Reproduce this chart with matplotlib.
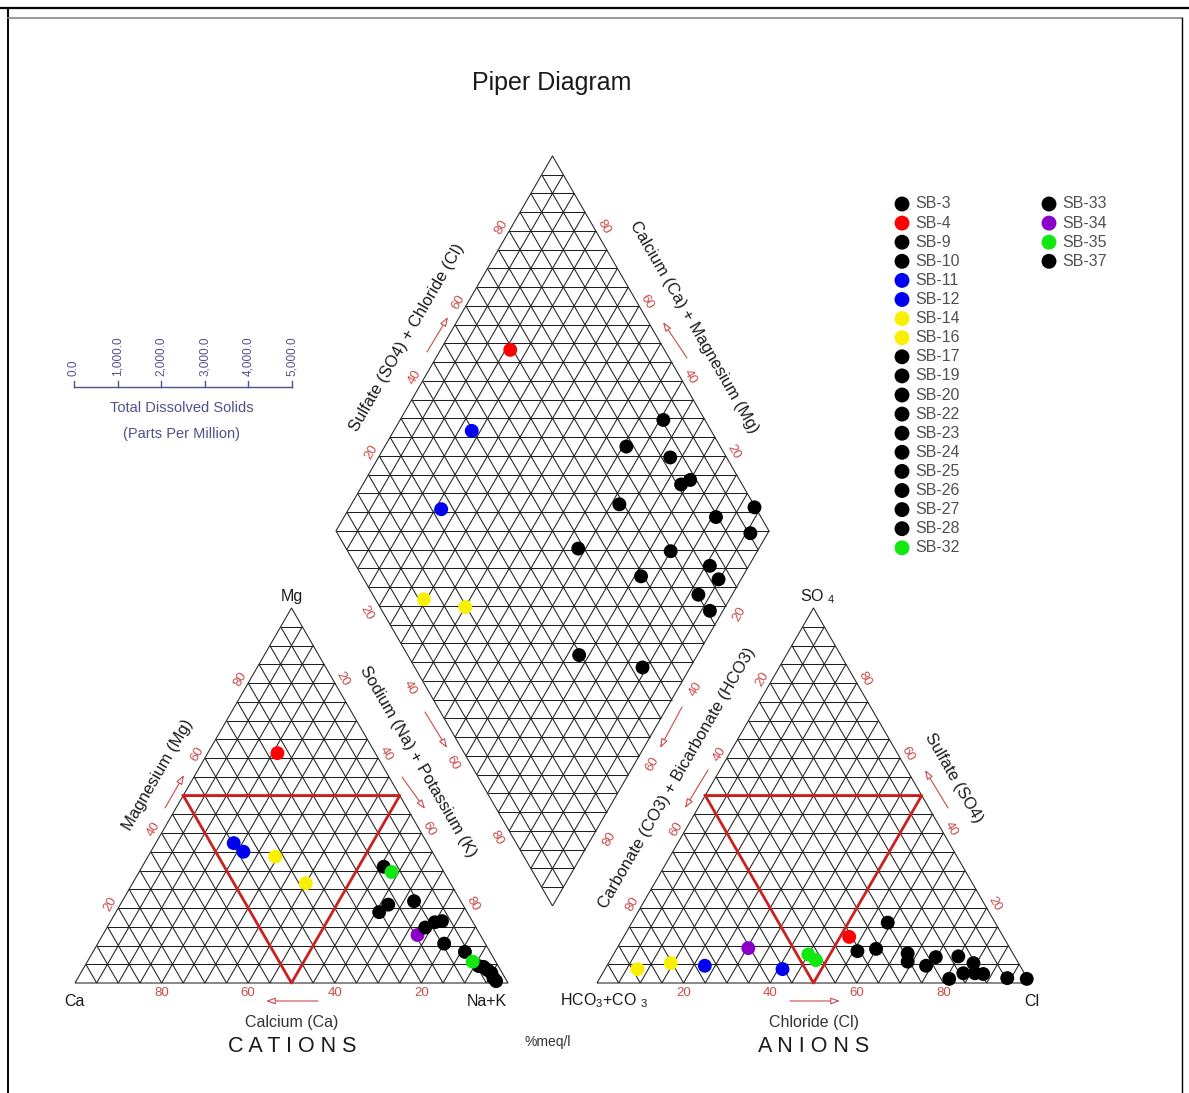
import numpy as np
import matplotlib
matplotlib.use("Agg")
import matplotlib.pyplot as plt
from matplotlib.collections import LineCollection

plt.rcParams['font.family'] = ['Liberation Sans', 'DejaVu Sans']
plt.rcParams['mathtext.fontset'] = 'custom'
plt.rcParams['mathtext.rm'] = 'Liberation Sans'
plt.rcParams['mathtext.it'] = 'Liberation Sans:italic'
plt.rcParams['mathtext.bf'] = 'Liberation Sans:bold'

# ---------------- data (percent meq/l) ----------------
samples = ['SB-3', 'SB-4', 'SB-9', 'SB-10', 'SB-11', 'SB-12', 'SB-14', 'SB-16',
           'SB-17', 'SB-19', 'SB-20', 'SB-22', 'SB-23', 'SB-24', 'SB-25', 'SB-26',
           'SB-27', 'SB-28', 'SB-32', 'SB-33', 'SB-34', 'SB-35', 'SB-37']
BLACK, RED, BLUE, YELLOW, GREEN, PURPLE = '#000000', '#ff0000', '#0000f0', '#f8f000', '#10e810', '#8a00c8'
colors = [BLACK, RED, BLACK, BLACK, BLUE, BLUE, YELLOW, YELLOW,
          BLACK, BLACK, BLACK, BLACK, BLACK, BLACK, BLACK, BLACK,
          BLACK, BLACK, GREEN, BLACK, PURPLE, GREEN, BLACK]

ca   = [20.3, 22.6, 13.2, 10.8, 44.7, 43.6, 36.9, 33.4, 17.2, 8.8, 7.0, 9.5, 5.8,
        4.5, 3.5, 3.0, 2.5, 2.7, 12.1, 2.5, 14.5, 5.3, 11.7]
mg   = [18.9, 61.3, 31.0, 21.8, 37.3, 35.0, 33.7, 26.6, 20.9, 16.2, 16.5, 10.5, 8.3,
        4.5, 4.3, 3.5, 2.7, 1.3, 29.6, 0.5, 12.8, 5.7, 14.8]
na_k = [60.8, 16.1, 55.8, 67.4, 18.0, 21.4, 29.4, 40.0, 61.9, 75.0, 76.5, 80.0, 85.9,
        91.0, 92.2, 93.5, 94.8, 96.0, 58.3, 97.0, 72.7, 89.0, 73.5]

hco3 = [9.6, 35.6, 21.7, 13.0, 55.3, 72.8, 88.8, 80.3, 31.0, 11.4, 35.6, 25.4, 10.4,
        18.3, 24.8, 0.2, 18.1, 4.6, 46.4, 24.3, 60.4, 47.4, 14.1]
so4  = [2.4, 12.3, 4.6, 7.1, 3.7, 4.6, 3.7, 5.3, 9.1, 2.6, 8.5, 5.7, 5.3,
        6.9, 16.1, 1.1, 1.1, 1.3, 6.1, 7.9, 9.3, 7.6, 2.6]
cl   = [88.0, 52.1, 73.7, 79.9, 41.0, 22.6, 7.5, 14.4, 59.9, 86.0, 55.9, 68.9, 84.3,
        74.8, 59.1, 98.7, 80.8, 94.1, 47.5, 67.8, 30.3, 45.0, 83.3]

tick_vals = [20, 40, 60, 80]
tds_vals = [0, 1000, 2000, 3000, 4000, 5000]

# in the diamond field the green / purple samples are drawn in black in the original
diamond_colors = [BLACK if c in (GREEN, PURPLE) else c for c in colors]

# ---------------- geometry ----------------
S = 100.0
H = S * np.sqrt(3) / 2
G = 20.55
OX = S + G
BX, BY = S + G / 2, G * np.sqrt(3) / 2

def cat_xy(c, m, n):
    t = c + m + n
    return (n + m / 2) / t * S, m / t * H

def an_xy(h, s, c):
    t = h + s + c
    return OX + (c + s / 2) / t * S, s / t * H

def dia_xy(a, b):
    return BX + (b - a) * S / 2, BY + (a + b) * H

K = 4.33
PX0, PY0 = 75.0, 983.0
def px(x, y):
    return ((x - PX0) / K, (PY0 - y) / K)

fig = plt.figure(figsize=(11.89, 10.93), dpi=100)
ax = fig.add_axes([0, 0, 1, 1])
ax.set_xlim(px(0, 0)[0], px(1189, 0)[0])
ax.set_ylim(px(0, 1093)[1], px(0, 0)[1])
ax.axis('off')

GRID_C = '#202020'
segs = []
for ox in (0.0, OX):
    for k in range(1, 20):
        f = k / 20
        segs.append([(ox + f * S / 2, f * H), (ox + S - f * S / 2, f * H)])
        segs.append([(ox + f * S, 0), (ox + f * S + (1 - f) * S / 2, (1 - f) * H)])
        segs.append([(ox + f * S, 0), (ox + f * S / 2, f * H)])
    segs.append([(ox, 0), (ox + S, 0), (ox + S / 2, H), (ox, 0)])
for k in range(1, 20):
    f = k / 20
    segs.append([dia_xy(0, f), dia_xy(1, f)])
    segs.append([dia_xy(f, 0), dia_xy(f, 1)])
for k in range(1, 40):
    s = k / 20
    if s <= 1:
        segs.append([dia_xy(s, 0), dia_xy(0, s)])
    else:
        segs.append([dia_xy(1, s - 1), dia_xy(s - 1, 1)])
segs.append([dia_xy(0, 0), dia_xy(1, 0), dia_xy(1, 1), dia_xy(0, 1), dia_xy(0, 0)])
ax.add_collection(LineCollection(segs, colors=GRID_C, linewidths=0.75, zorder=1))

# red inner triangles
RT = '#cc2020'
tri_c = [cat_xy(50, 50, 0), cat_xy(0, 50, 50), cat_xy(50, 0, 50), cat_xy(50, 50, 0)]
tri_a = [an_xy(50, 50, 0), an_xy(0, 50, 50), an_xy(50, 0, 50), an_xy(50, 50, 0)]
for tri in (tri_c, tri_a):
    xs, ys = zip(*tri)
    ax.plot(xs, ys, color=RT, lw=2.0, zorder=2)

# ---------------- sample points ----------------
MS = 100
cx, cy = zip(*[cat_xy(c, m, n) for c, m, n in zip(ca, mg, na_k)])
axx, ayy = zip(*[an_xy(h, s, c) for h, s, c in zip(hco3, so4, cl)])
dx, dy = zip(*[dia_xy((c + m) / (c + m + n), (s + c2) / (h + s + c2))
               for c, m, n, h, s, c2 in zip(ca, mg, na_k, hco3, so4, cl)])
for i in range(len(samples)):
    ax.scatter(cx[i], cy[i], s=MS, color=colors[i], edgecolors='none', zorder=3 + i * 0.01)
    ax.scatter(axx[i], ayy[i], s=MS, color=colors[i], edgecolors='none', zorder=3 + i * 0.01)
    ax.scatter(dx[i], dy[i], s=MS, color=diamond_colors[i], edgecolors='none', zorder=3 + i * 0.01)

# ---------------- tick labels ----------------
TC = '#cc4a4a'
r3 = np.sqrt(3) / 2
n_left, n_right = (-r3, 0.5), (r3, 0.5)
n_ll, n_lr = (-r3, -0.5), (r3, -0.5)

def tick(pt, nrm, off, rot, v):
    ax.text(pt[0] + nrm[0] * off, pt[1] + nrm[1] * off, str(v), rotation=rot,
            rotation_mode='anchor', ha='center', va='center', fontsize=9.5, color=TC)

for v in tick_vals:
    p = cat_xy(v, 0, 100 - v)
    ax.text(p[0], p[1] - 2.4, str(v), ha='center', va='center', fontsize=9.5, color=TC)
    tick(cat_xy(100 - v, v, 0), n_left, 2.0, 60, v)
    tick(cat_xy(0, 100 - v, v), n_right, 2.0, -60, v)
    p = an_xy(100 - v, 0, v)
    ax.text(p[0], p[1] - 2.4, str(v), ha='center', va='center', fontsize=9.5, color=TC)
    tick(an_xy(v, 100 - v, 0), n_left, 2.0, 60, v)
    tick(an_xy(0, v, 100 - v), n_right, 2.0, -60, v)
    tick(dia_xy(1, v / 100), n_left, 2.0, 60, v)
    tick(dia_xy(v / 100, 1), n_right, 2.0, -60, v)
    tick(dia_xy(1 - v / 100, 0), n_ll, 3.4, -60, v)
    tick(dia_xy(0, 1 - v / 100), n_lr, 3.6, 60, v)

# ---------------- arrows ----------------
arrows = [((318, 1001), (266, 1001)), ((165, 808), (184, 775)), ((402, 777), (425, 809)),
          ((425, 712), (447, 748)), ((427, 352), (448, 317)), ((687, 358), (663, 322)),
          ((682, 707), (660, 748)), ((708, 770), (685, 808)), ((948, 808), (925, 770)),
          ((790, 1001), (840, 1001))]
for a0, a1 in arrows:
    ax.annotate('', xy=px(*a1), xytext=px(*a0),
                arrowprops=dict(arrowstyle='-|>,head_length=0.55,head_width=0.2',
                                ec=TC, fc='white', lw=0.8, shrinkA=0, shrinkB=0))

# ---------------- texts ----------------
LC = '#1a1a1a'
def t(xy, s, **kw):
    kw.setdefault('ha', 'center')
    kw.setdefault('va', 'center')
    kw.setdefault('color', LC)
    ax.text(*px(*xy), s, **kw)

t((552, 83), 'Piper Diagram', fontsize=18)
t((292, 596), 'Mg', fontsize=11.5)
t((74, 1001), 'Ca', fontsize=11.5)
t((487, 1001), 'Na+K', fontsize=11.5)
t((818, 597), r'SO $_4$', fontsize=11.5)
t((604, 1001), r'HCO$_3$+CO $_3$', fontsize=11.5)
t((1032, 1001), 'Cl', fontsize=11.5)
t((292, 1022), 'Calcium (Ca)', fontsize=11.5, color='#333333')
t((814, 1022), 'Chloride (Cl)', fontsize=11.5, color='#333333')
t((292, 1047), 'C A T I O N S', fontsize=15.5)
t((814, 1047), 'A N I O N S', fontsize=15.5)
t((548, 1042), '%meq/l', fontsize=10, color='#333333')

rk = dict(rotation_mode='anchor', fontsize=12)
t((158, 775), 'Magnesium (Mg)', rotation=60, **rk)
t((418, 762), 'Sodium (Na) + Potassium (K)', rotation=-60, **rk)
t((407, 338), 'Sulfate (SO4) + Chloride (Cl)', rotation=60, **rk)
t((694, 327), 'Calcium (Ca) + Magnesium (Mg)', rotation=-60, **rk)
t((677, 778), 'Carbonate (CO3) + Bicarbonate (HCO3)', rotation=60, **rk)
t((954, 778), 'Sulfate (SO4)', rotation=-60, **rk)

# ---------------- TDS scale ----------------
SC = '#50508c'
x_a, x_b, y_l = 74, 292, 387
ax.plot(*zip(px(x_a, y_l), px(x_b, y_l)), color=SC, lw=1.0)
for v in tds_vals:
    xv = x_a + v / tds_vals[-1] * (x_b - x_a)
    ax.plot(*zip(px(xv, y_l), px(xv, y_l - 6)), color=SC, lw=1.0)
    t((xv, y_l - 11), '{:,.1f}'.format(v), rotation=90, rotation_mode='anchor',
      ha='left', va='center', fontsize=8.5, color=SC)
t((182, 408), 'Total Dissolved Solids', fontsize=10.5, color=SC)
t((182, 434), '(Parts Per Million)', fontsize=10.5, color=SC)

# ---------------- legend ----------------
for i, (name, c) in enumerate(zip(samples, colors)):
    col, row = (0, i) if i < 19 else (1, i - 19)
    mx = 902 if col == 0 else 1049
    yy = 204 + 19.1 * row
    ax.scatter(*px(mx, yy), s=115, color=c, edgecolors='none', zorder=3)
    t((mx + 13, yy), name, ha='left', fontsize=11.5, color='#505050')

# ---------------- frame ----------------
fk = dict(clip_on=False, zorder=5)
ax.plot(*zip(px(0, 8), px(1189, 8)), color='black', lw=1.6, **fk)
ax.plot(*zip(px(8, 8), px(8, 1093)), color='black', lw=1.4, **fk)
ax.plot(*zip(px(8, 18), px(1182, 18)), color='#888888', lw=1.2, **fk)
ax.plot(*zip(px(1182, 18), px(1182, 1093)), color='black', lw=1.0, **fk)

fig.savefig('out.png', dpi=100)
